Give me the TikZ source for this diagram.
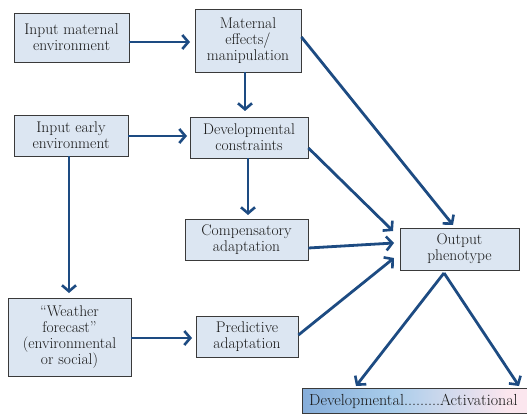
\documentclass[tikz,border=0pt]{standalone}
\usetikzlibrary{arrows.meta}
\definecolor{boxfill}{HTML}{DCE6F2}
\definecolor{boxline}{HTML}{3A3A3A}
\definecolor{arrowblue}{HTML}{1D4B82}
\definecolor{barblue}{HTML}{5A86C4}
\definecolor{barlight}{HTML}{A9CDEB}
\definecolor{barpink}{HTML}{FBE6EE}
\pgfdeclarehorizontalshading{devbar}{100bp}{color(0bp)=(barblue); color(45bp)=(barlight); color(70bp)=(barpink); color(100bp)=(barpink)}
\tikzset{
  box/.style={draw=boxline, line width=0.8pt, fill=boxfill, align=center, inner sep=1pt,
    font=\fontsize{15.5}{16}\selectfont, text=black!90},
  flow/.style={draw=arrowblue, line width=2.8pt, -{Straight Barb[length=6pt,width=14pt,line width=2.6pt]}}
}
\begin{document}
\begin{tikzpicture}[x=1pt,y=-1pt]
    \useasboundingbox (0,0) rectangle (527,417);

    % Eingaben
    \node[box, minimum width=115pt, minimum height=49pt] (matin) at (71.5,37.5) {Input maternal\\environment};
    \node[box, minimum width=114pt, minimum height=41pt] (earlyin) at (71,135.5) {Input early\\environment};
    \node[box, minimum width=123pt, minimum height=78pt] (weather) at (69.5,337) {``Weather\\forecast''\\(environmental\\or social)};

    % Mittlere Spalte
    \node[box, minimum width=106pt, minimum height=63pt] (mateff) at (248,40.5) {Maternal\\effects/\\manipulation};
    \node[box, minimum width=118pt, minimum height=41pt] (devcon) at (249,137.5) {Developmental\\constraints};
    \node[box, minimum width=123pt, minimum height=41pt] (comp) at (246.5,239.5) {Compensatory\\adaptation};
    \node[box, minimum width=102pt, minimum height=41pt] (pred) at (247,336.5) {Predictive\\adaptation};

    % Ausgabe
    \node[box, minimum width=119pt, minimum height=42pt] (out) at (459.5,249) {Output\\phenotype};

    % Skala unten
    \shade[shading=devbar, draw=boxline, line width=0.8pt] (302,388) rectangle (530,413);
    \node[font=\fontsize{16}{17}\selectfont, text=black!90, anchor=west, inner sep=0pt] (scale) at (309,401) {Developmental.........Activational};
    \coordinate (devend) at (356,386);
    \coordinate (actend) at (519,386);

    % Pfeile
    \draw[flow] (matin.east |- 0,42) -- (190,42);
    \draw[flow] (mateff.south -| 245,0) -- (245,111);
    \draw[flow] (earlyin.east |- 0,136) -- (187,136);
    \draw[flow] (devcon.south -| 248,0) -- (248,215);
    \draw[flow] (earlyin.south -| 69,0) -- (69,293);
    \draw[flow] (weather.east |- 0,338) -- (192,338);
    \draw[flow] (mateff.east |- 0,37) -- (453,225);
    \draw[flow] (devcon.east |- 0,148) -- (393,231);
    \draw[flow] (comp.east |- 0,248) -- (394,243);
    \draw[flow] (pred.east |- 0,335) -- (394,258);
    \draw[flow] (444,273) -- (devend);
    \draw[flow] (444,273) -- (actend);

\end{tikzpicture}
\end{document}
